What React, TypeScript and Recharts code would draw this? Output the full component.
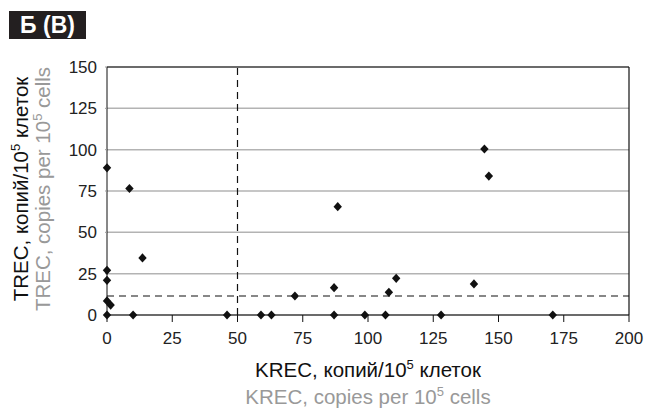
import React from 'react';
import { ScatterChart, Scatter, XAxis, YAxis, CartesianGrid, ReferenceLine } from 'recharts';

// KREC / TREC, copies per 10^5 cells
const krec = [0, 0, 0, 0, 1.4, 0, 8.6, 13.6, 10, 46, 59, 63, 72, 87, 88.4, 87, 98.8, 106.7, 108, 110.8, 128, 140.6, 144.6, 146.3, 170.8];
const trec = [89, 27, 21, 8.5, 6, 0, 76.5, 34.5, 0, 0, 0, 0, 11.5, 16.5, 65.5, 0, 0, 0, 13.7, 22.2, 0, 18.8, 100.4, 84, 0];

const xTicks = [0, 25, 50, 75, 100, 125, 150, 175, 200];
const yTicks = [0, 25, 50, 75, 100, 125, 150];

const KREC_CUTOFF = 50;
const TREC_CUTOFF = 11.5;

const points = krec.map((x, i) => ({ x, y: trec[i] }));

const FONT = '"Liberation Sans", Arial, sans-serif';

const Diamond = (props: any) => {
  const { cx, cy } = props;
  const w = 4.2;
  const h = 4.6;
  return <path d={`M${cx},${cy - h}L${cx + w},${cy}L${cx},${cy + h}L${cx - w},${cy}Z`} fill="#111" />;
};

const XTitle = ({ viewBox }: any) => {
  const cx = viewBox.x + viewBox.width / 2;
  return (
    <g fontFamily={FONT} fontSize={20.5} textAnchor="middle">
      <text x={cx} y={viewBox.y + 62} fill="#111">
        KREC, копий/10<tspan fontSize={13} dy={-8}>5</tspan><tspan dy={8}> клеток</tspan>
      </text>
      <text x={cx} y={viewBox.y + 89} fill="#999">
        KREC, copies per 10<tspan fontSize={13} dy={-8}>5</tspan><tspan dy={8}> cells</tspan>
      </text>
    </g>
  );
};

const YTitle = ({ viewBox }: any) => {
  const cy = viewBox.y + viewBox.height / 2 - 2;
  return (
    <g fontFamily={FONT} fontSize={20.5} textAnchor="middle">
      <text x={28} y={cy} fill="#111" transform={`rotate(-90 28 ${cy})`}>
        TREC, копий/10<tspan fontSize={13} dy={-8}>5</tspan><tspan dy={8}> клеток</tspan>
      </text>
      <text x={50} y={cy} fill="#999" transform={`rotate(-90 50 ${cy})`}>
        TREC, copies per 10<tspan fontSize={13} dy={-8}>5</tspan><tspan dy={8}> cells</tspan>
      </text>
    </g>
  );
};

export default function App() {
  return (
    <div style={{ position: 'absolute', left: 0, top: 0, width: 653, height: 410, background: '#fff' }}>
      <div
        style={{
          position: 'absolute', left: 9, top: 11, width: 77, height: 28,
          background: '#231f20', color: '#fff', fontFamily: FONT, fontWeight: 700,
          fontSize: 23, lineHeight: '28px', textAlign: 'center',
        }}
      >
        Б (В)
      </div>
      <ScatterChart width={653} height={410} margin={{ top: 67, right: 24, bottom: 0, left: 0 }}>
        <CartesianGrid vertical={false} stroke="#b3b3b3" strokeWidth={1.5} />
        <XAxis
          type="number"
          dataKey="x"
          domain={[0, 200]}
          ticks={xTicks}
          height={95}
          stroke="#111"
          tickSize={7}
          tickMargin={10}
          tick={{ fill: '#222', fontSize: 17, fontFamily: FONT }}
          label={{ content: XTitle }}
        />
        <YAxis
          type="number"
          dataKey="y"
          domain={[0, 150]}
          ticks={yTicks}
          width={107}
          stroke="#111"
          tickSize={2}
          tickMargin={8}
          tickLine={{ stroke: '#999' }}
          tick={{ fill: '#222', fontSize: 17, fontFamily: FONT }}
          label={{ content: YTitle }}
        />
        <ReferenceLine y={150} stroke="#111" strokeWidth={1.2} />
        <ReferenceLine x={200} stroke="#111" strokeWidth={1.2} />
        <ReferenceLine x={KREC_CUTOFF} stroke="#111" strokeWidth={1.2} strokeDasharray="7 5" />
        <ReferenceLine y={TREC_CUTOFF} stroke="#111" strokeWidth={1.2} strokeDasharray="7 5" />
        <Scatter data={points} shape={Diamond} isAnimationActive={false} />
      </ScatterChart>
    </div>
  );
}
